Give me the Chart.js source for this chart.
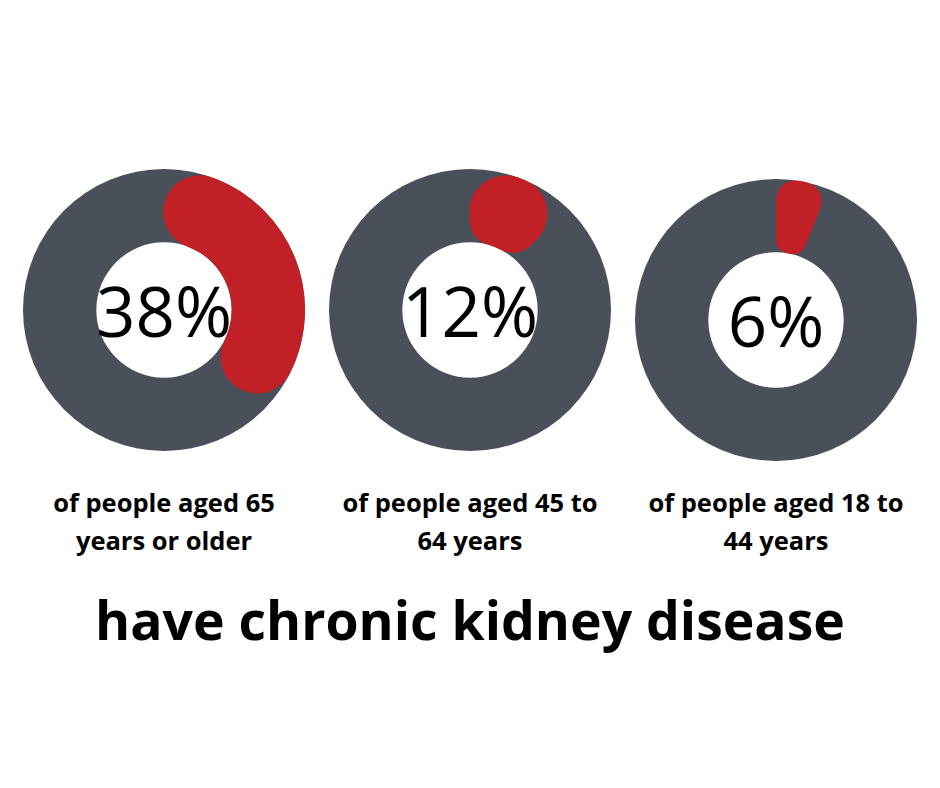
<!DOCTYPE html>
<html><head><meta charset="utf-8">
<script src="https://cdn.jsdelivr.net/npm/chart.js@4"></script>
<style>
body{margin:0;width:940px;height:788px;background:#fff;font-family:"Open Sans",sans-serif;position:relative;overflow:hidden}
.ring{position:absolute;width:290px;height:290px}
.ring canvas{position:absolute;left:0;top:0}
.pct{position:absolute;left:0;top:0;width:290px;height:290px;display:flex;align-items:center;justify-content:center;font-size:69px;color:#000}
.lbl{position:absolute;width:320px;text-align:center;font-weight:700;font-size:25.5px;line-height:38px;color:#000}
.title{position:absolute;left:0;width:940px;top:583px;text-align:center;font-weight:700;font-size:53.5px;color:#000}
</style></head><body>
<div class="title">have chronic kidney disease</div>
<script>
const percents = [38, 12, 6];
const labels = ['of people aged 65<br>years or older', 'of people aged 45 to<br>64 years', 'of people aged 18 to<br>44 years'];
const centers = [[164, 310], [470, 310], [776, 320]];
const labelX = [164, 470, 776];

percents.forEach((p, i) => {
    const box = document.createElement('div');
    box.className = 'ring';
    box.style.left = (centers[i][0] - 145) + 'px';
    box.style.top = (centers[i][1] - 145) + 'px';
    const c1 = document.createElement('canvas'), c2 = document.createElement('canvas');
    [c1, c2].forEach(c => { c.width = 290; c.height = 290; box.appendChild(c) });
    const pct = document.createElement('div');
    pct.className = 'pct';
    pct.textContent = p + '%';
    box.appendChild(pct);
    document.body.appendChild(box);

    const base = {responsive: false, animation: false, cutout: '48%', plugins: {legend: {display: false}, tooltip: {enabled: false}}, layout: {padding: 4}};
    new Chart(c1, {type: 'doughnut', data: {datasets: [{data: [100], backgroundColor: ['#495059'], borderWidth: 0}]}, options: base});
    new Chart(c2, {type: 'doughnut', data: {datasets: [{data: [p, 100 - p], backgroundColor: ['#c02026', 'rgba(0,0,0,0)'], borderWidth: 0, borderRadius: [40, 0]}]}, options: base});

    const l = document.createElement('div');
    l.className = 'lbl';
    l.style.left = (labelX[i] - 160) + 'px';
    l.style.top = '483px';
    l.innerHTML = labels[i];
    document.body.appendChild(l);
});
</script>
</body></html>
